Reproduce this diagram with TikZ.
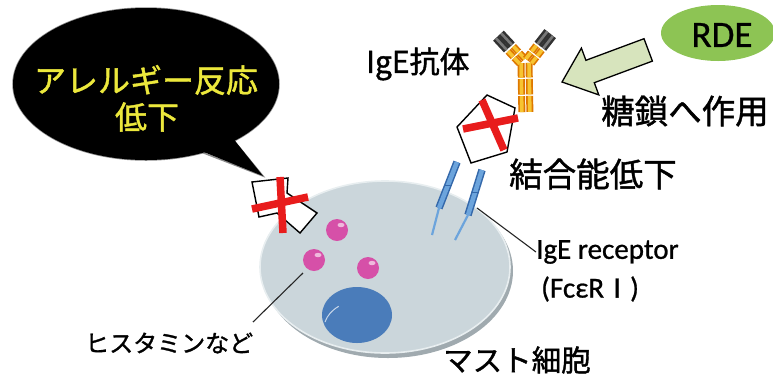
\documentclass[tikz,border=0pt]{standalone}
\usepackage{fontspec}
\setmainfont{Noto Sans CJK JP}
\newfontfamily\jp[FakeBold=1.3]{Noto Sans CJK JP}
\newfontfamily\lat[FakeBold=0.8]{Carlito}
\usetikzlibrary{shapes.geometric,calc}
\definecolor{bubtext}{RGB}{236,232,60}
\definecolor{rdegreen}{RGB}{141,196,84}
\definecolor{arrowfill}{RGB}{215,228,189}
\definecolor{xred}{RGB}{232,28,28}
\definecolor{cellfill}{RGB}{203,214,219}
\definecolor{cellrim}{RGB}{232,238,240}
\definecolor{cellshade}{RGB}{160,170,175}
\definecolor{nucblue}{RGB}{74,124,186}
\definecolor{granpink}{RGB}{214,80,168}
\definecolor{recdark}{RGB}{52,104,170}
\definecolor{reclight}{RGB}{108,164,220}
\definecolor{aborange}{RGB}{222,120,0}
\definecolor{abyellow}{RGB}{247,196,49}
\definecolor{capdark}{RGB}{50,50,50}
\definecolor{capmid}{RGB}{120,120,120}
\tikzset{
  jplabel/.style={font=\jp\fontsize{#1}{#1}\selectfont, inner sep=0pt, anchor=west},
  latlabel/.style={font=\lat\fontsize{#1}{#1}\selectfont, inner sep=0pt, anchor=west},
  leader/.style={draw=black!85, line width=1.1pt},
  crossbar/.style={draw=xred, line width=7.5pt},
  tagbox/.style={draw=black, line width=1.4pt, fill=white, line join=miter},
  abouter/.style={draw=aborange, line width=7pt},
  abinner/.style={draw=abyellow, line width=3.6pt},
  capouter/.style={draw=capdark, line width=7.5pt},
  capinner/.style={draw=capmid, line width=2.6pt},
}
\newcommand{\abseg}[2]{\draw[abouter] #1 -- #2; \draw[abinner] #1 -- #2;}
\newcommand{\capseg}[2]{\draw[capouter] #1 -- #2; \draw[capinner] #1 -- #2;}
\begin{document}
\begin{tikzpicture}[x=1pt,y=-1pt]
\useasboundingbox (0,0) rectangle (773,376);

% speech bubble
\draw[draw=black!45, line width=1.5pt] (146,84) ellipse [x radius=133, y radius=76];
\draw[draw=black!45, line width=1.5pt] (230,136) -- (263,176) -- (196,150);
\fill[black] (146,84) ellipse [x radius=133, y radius=76];
\fill[black] (228,132) -- (263,176) -- (194,148) -- cycle;
\node[font=\jp\fontsize{32}{32}\selectfont, text=bubtext, inner sep=0pt] (allergy) at (146,80) {アレルギー反応};
\node[font=\jp\fontsize{32}{32}\selectfont, text=bubtext, inner sep=0pt] (lower) at (147,117) {低下};

% RDE enzyme
\node[ellipse, fill=rdegreen, minimum width=114pt, minimum height=56pt, inner sep=0pt] (rde) at (718,33) {};
\node[font=\lat\fontsize{37}{37}\selectfont, inner sep=0pt] (rdetext) at (722,35) {RDE};

% block arrow toward the antibody
\draw[fill=arrowfill, draw=black, line width=1.3pt, line join=miter]
  (562,82) -- (581.4,48.1) -- (585.9,60.3) -- (644.0,38.7) -- (652.4,61.1)
  -- (594.3,82.7) -- (598.8,94.9) -- cycle;

% IgE antibody: stem (two heavy chains)
\begin{scope}[shift={(525,62)}, rotate=-89]
  \foreach \yy in {-4,4}{
    \abseg{(1,\yy)}{(15.5,\yy)}
    \abseg{(17,\yy)}{(32.5,\yy)}
    \abseg{(34,\yy)}{(50,\yy)}
  }
\end{scope}
% left arm with its variable-region cap
\begin{scope}[shift={(523,62)}, rotate=133]
  \foreach \yy in {-3.6,3.6}{
    \abseg{(1,\yy)}{(9,\yy)}
    \abseg{(10.5,\yy)}{(18,\yy)}
    \capseg{(20,\yy)}{(36,\yy)}
  }
\end{scope}
% right arm with its variable-region cap
\begin{scope}[shift={(528,62)}, rotate=52]
  \foreach \yy in {-3.6,3.6}{
    \abseg{(1,\yy)}{(9,\yy)}
    \abseg{(10.5,\yy)}{(18,\yy)}
    \capseg{(20,\yy)}{(36,\yy)}
  }
\end{scope}

% labels near the antibody
\node[jplabel=30] (ige) at (366,64) {IgE抗体};
\node[jplabel=33.5] (sugar) at (601,111) {糖鎖へ作用};
\node[jplabel=33.5] (bind) at (509,174) {結合能低下};

% blocked binding tag, upper
\draw[tagbox] (457,127) -- (487,95) -- (515,108) -- (507,152) -- (471,163) -- cycle;
\draw[crossbar] (463,129) -- (518,118);
\draw[crossbar] (482,100) -- (504,150);

% mast cell body
\fill[cellshade] (388,271) ellipse [x radius=125, y radius=87];
\draw[fill=cellfill, draw=cellrim, line width=1.6pt] (385,267) ellipse [x radius=125, y radius=86];

% nucleus
\fill[nucblue] (357,315) ellipse [x radius=35, y radius=28];
\draw[white!70!nucblue, line width=1pt] (325,322) arc [start angle=195, end angle=235, x radius=35, y radius=28];

% granules
\foreach \gx/\gy/\gn in {337/230/granA, 314/260/granB, 368/268/granC}{
  \node[circle, fill=granpink, minimum size=22pt, inner sep=0pt] (\gn) at (\gx,\gy) {};
  \fill[white!60!granpink] (\gx+4,\gy-5) ellipse [x radius=3.5, y radius=2.2];
}

% IgE receptors on the membrane
\coordinate (recAtop) at (457,162);
\coordinate (recAmid) at (439,208);
\coordinate (recAend) at (432,235);
\coordinate (recBtop) at (482,170);
\coordinate (recBmid) at (468,215);
\coordinate (recBend) at (455,240);
\foreach \rt/\rm/\re in {recAtop/recAmid/recAend, recBtop/recBmid/recBend}{
  \draw[recdark, line width=7.5pt] (\rt) -- (\rm);
  \draw[reclight, line width=4.5pt] (\rt) -- (\rm);
  \draw[recdark, line width=1pt] ($(\rt)!0.5!(\rm)+(-3.5,0)$) -- ($(\rt)!0.5!(\rm)+(3.5,0)$);
  \draw[reclight, line width=2.2pt] (\rm) -- (\re);
}

% blocked binding tag, on the membrane
\draw[tagbox] (252,182) -- (288,178) -- (287,193) -- (317,213) -- (300,233) -- (277,213) -- (259,217) -- cycle;
\draw[crossbar] (252,209) -- (308,197);
\draw[crossbar] (280,177) -- (283,233);

% receptor and granule labels
\coordinate (recpt) at (477,208);
\node[latlabel=29] (receptor) at (536,252) {IgE receptor};
\node[latlabel=29] (fce) at (541,289) {(FcεR{\jp\fontsize{26}{26}\selectfont Ⅰ})};
\draw[leader] (recpt) -- (receptor.west);
\coordinate (granpt) at (303,273);
\coordinate (histpt) at (253,322);
\node[jplabel=24] (hist) at (85,343) {ヒスタミンなど};
\draw[leader] (granpt) -- (histpt);
\node[jplabel=29.5] (mast) at (443,360) {マスト細胞};
\end{tikzpicture}
\end{document}
